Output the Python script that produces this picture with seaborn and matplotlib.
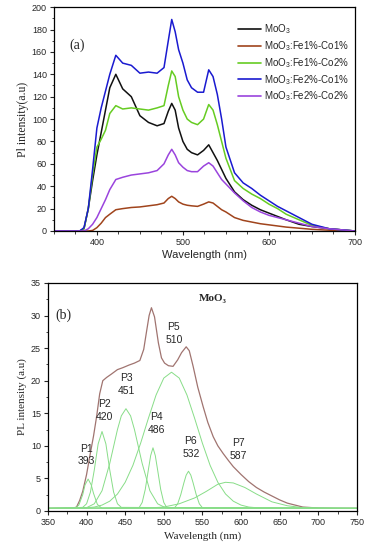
import matplotlib
matplotlib.use("Agg")
from matplotlib import pyplot as plt
from matplotlib.ticker import MultipleLocator
import seaborn as sns
import pandas as pd

# ---- panel (a): PL spectra of the five samples
wl = [350, 380, 385, 390, 395, 400, 405, 410, 415, 422, 430, 440, 450, 460, 470, 478,
      483, 487, 491, 495, 500, 505, 510, 517, 524, 530, 535, 540, 545, 550, 560, 570,
      580, 590, 600, 610, 620, 635, 650, 670, 700]
moo3 = [0, 0, 2, 20, 45, 68, 88, 108, 128, 140, 127, 120, 103, 97, 94, 96,
        107, 114, 108, 92, 80, 73, 70, 68, 72, 77, 70, 63, 55, 47, 35, 28,
        23, 19, 16, 13, 10, 6, 4, 2, 0]
fe1co1 = [0, 0, 0, 0, 0.5, 3, 7, 12, 15, 19, 20, 21, 21.5, 22.5, 23.5, 25,
          29, 31, 29, 26, 24, 23, 22.5, 22, 24, 26, 25, 22, 19, 17, 12, 9.5,
          8, 6.5, 5.5, 4.5, 3.5, 2.5, 1.5, 0.7, 0]
fe1co2 = [0, 0, 2, 20, 50, 75, 82, 90, 105, 112, 109, 110, 109, 108, 110, 112,
          130, 143, 138, 120, 108, 100, 97, 95, 100, 113, 108, 95, 80, 65, 45, 38,
          33, 29, 24, 20, 15, 10, 5, 2, 0]
fe2co1 = [0, 0, 3, 20, 55, 92, 110, 125, 140, 157, 150, 148, 141, 142, 141, 146,
          170, 189, 178, 162, 150, 135, 128, 124, 124, 144, 138, 122, 100, 75, 52, 43,
          38, 32, 27, 22, 18, 12, 6, 2, 0]
fe2co2 = [0, 0, 0, 2, 6, 12, 20, 28, 37, 46, 48, 50, 51, 52, 54, 60,
          68, 73, 68, 61, 57, 54, 53, 53, 58, 61, 58, 52, 46, 42, 34, 27,
          21, 17, 14, 12, 10, 7, 4, 2, 0]
samples = ["MoO$_3$", "MoO$_3$:Fe1%-Co1%", "MoO$_3$:Fe1%-Co2%",
           "MoO$_3$:Fe2%-Co1%", "MoO$_3$:Fe2%-Co2%"]
colors = ["#111111", "#a0441c", "#66cc22", "#1a1ad0", "#9a44dd"]

# ---- panel (b): MoO3 spectrum and its fitted components
wl_b = [350, 382, 387, 391, 395, 400, 404, 409, 413, 417, 421, 426, 432, 440, 447, 455,
        462, 469, 474, 478, 481, 484, 488, 493, 497, 501, 506, 512, 518, 523, 529, 533,
        538, 544, 551, 557, 564, 570, 577, 584, 590, 600, 610, 620, 630, 640, 650, 660,
        680, 700, 720, 750]
pl_b = [0.4, 0.4, 0.6, 1.6, 3.0, 5.6, 8.3, 11.5, 14.5, 18, 20, 20.5, 21.0, 21.7, 22.0, 22.4,
        22.7, 23.1, 24.8, 27.8, 30.0, 31.2, 29.8, 25.8, 23.5, 22.7, 22.3, 22.2, 23.2, 24.3, 25.2, 24.6,
        22.2, 19.0, 16.0, 13.6, 11.4, 10.0, 8.8, 7.7, 6.8, 5.6, 4.5, 3.6, 2.9, 2.3, 1.7, 1.2,
        0.6, 0.45, 0.4, 0.4]

p1_x = [350, 385, 390, 395, 398, 402, 406, 409, 414, 420, 750]
p1_y = [0.4, 0.4, 0.9, 2.5, 4.0, 4.9, 4.0, 2.7, 1.0, 0.4, 0.4]
p2_x = [350, 395, 400, 405, 410, 415, 420, 425, 430, 435, 440, 445, 750]
p2_y = [0.4, 0.55, 1.1, 2.9, 6.3, 10.3, 12.2, 10.3, 6.3, 2.9, 1.1, 0.55, 0.4]
p3_x = [350, 400, 410, 420, 430, 440, 445, 451, 457, 462, 472, 482, 492, 502, 750]
p3_y = [0.4, 0.5, 1.1, 3.1, 7.3, 12.5, 14.6, 15.7, 14.6, 12.5, 7.3, 3.1, 1.1, 0.5, 0.4]
p4_x = [350, 468, 472, 476, 480, 483, 486, 489, 492, 496, 500, 504, 750]
p4_y = [0.4, 0.5, 1.3, 3.3, 6.3, 8.5, 9.7, 8.5, 6.3, 3.3, 1.3, 0.5, 0.4]
p5_x = [350, 400, 410, 420, 430, 440, 450, 460, 470, 480, 490, 500, 510, 520, 530, 540,
        550, 560, 570, 580, 590, 600, 610, 620, 750]
p5_y = [0.4, 0.5, 0.6, 0.9, 1.5, 2.6, 4.4, 7.0, 10.4, 14.2, 17.8, 20.4, 21.3, 20.4, 17.8, 14.2,
        10.4, 7.0, 4.4, 2.6, 1.5, 0.9, 0.6, 0.5, 0.4]
p6_x = [350, 514, 518, 522, 526, 529, 532, 535, 538, 542, 546, 550, 750]
p6_y = [0.4, 0.5, 1.1, 2.5, 4.3, 5.5, 6.1, 5.5, 4.3, 2.5, 1.1, 0.5, 0.4]
p7_x = [350, 480, 500, 520, 540, 555, 570, 580, 590, 605, 620, 640, 660, 680, 700, 750]
p7_y = [0.4, 0.45, 0.6, 1.1, 2.0, 3.0, 4.1, 4.4, 4.3, 3.6, 2.6, 1.4, 0.8, 0.5, 0.4, 0.4]
peak_names = ["P1", "P2", "P3", "P4", "P5", "P6", "P7"]
peak_pos = [393, 420, 451, 486, 510, 532, 587]
label_x = [400, 423, 452, 491, 513, 535, 597]
label_y = [8.6, 15.4, 19.4, 13.4, 27.2, 9.7, 9.4]

sns.set_theme(style="ticks")
plt.rcParams["font.family"] = ["Liberation Sans", "DejaVu Sans"]
plt.rcParams["mathtext.fontset"] = "custom"
plt.rcParams["mathtext.rm"] = "Liberation Sans"
plt.rcParams["mathtext.it"] = "Liberation Sans:italic"

fig = plt.figure(figsize=(3.69, 5.5), dpi=100)
ax1 = fig.add_axes([0.146, 0.58, 0.816, 0.407])
ax2 = fig.add_axes([0.130, 0.071, 0.837, 0.4145])

# panel (a)
df_a = pd.DataFrame({"wavelength": wl * 5,
                     "intensity": moo3 + fe1co1 + fe1co2 + fe2co1 + fe2co2,
                     "sample": sum([[s] * len(wl) for s in samples], [])})
sns.lineplot(data=df_a, x="wavelength", y="intensity", hue="sample",
             palette=colors, linewidth=1.1, ax=ax1)
ax1.set_xlim(350, 700)
ax1.set_ylim(0, 200)
ax1.xaxis.set_major_locator(MultipleLocator(100))
ax1.xaxis.set_minor_locator(MultipleLocator(25))
ax1.yaxis.set_major_locator(MultipleLocator(20))
ax1.yaxis.set_minor_locator(MultipleLocator(10))
ax1.set_xlabel("Wavelength (nm)", fontsize=8, labelpad=2)
ax1.set_ylabel("Pl intensity(a.u)", fontsize=8.5, family="Liberation Serif", labelpad=2)
ax1.text(0.05, 0.83, "(a)", transform=ax1.transAxes, fontsize=10,
         family="Liberation Serif", va="center")
leg = ax1.legend(frameon=False, loc="upper right", bbox_to_anchor=(1.01, 0.97),
                 fontsize=7, handlelength=2.4, handletextpad=0.3, labelspacing=0.3)
for line in leg.get_lines():
    line.set_linewidth(1.2)

# panel (b)
sns.lineplot(x=wl_b, y=pl_b, color="#a07470", linewidth=0.9, ax=ax2)
for px, py in [(p1_x, p1_y), (p2_x, p2_y), (p3_x, p3_y), (p4_x, p4_y),
               (p5_x, p5_y), (p6_x, p6_y), (p7_x, p7_y)]:
    sns.lineplot(x=px, y=py, color="#88dd88", linewidth=0.7, ax=ax2)
for name, pos, tx, ty in zip(peak_names, peak_pos, label_x, label_y):
    ax2.text(tx, ty, f"{name}\n{pos}", ha="center", va="center", fontsize=7.5,
             linespacing=1.35)
ax2.set_xlim(350, 750)
ax2.set_ylim(0, 35)
ax2.xaxis.set_major_locator(MultipleLocator(50))
ax2.xaxis.set_minor_locator(MultipleLocator(25))
ax2.yaxis.set_major_locator(MultipleLocator(5))
ax2.yaxis.set_minor_locator(MultipleLocator(2.5))
ax2.set_xlabel("Wavelength (nm)", fontsize=8, family="Liberation Serif", labelpad=3)
ax2.set_ylabel("PL intensity (a.u)", fontsize=8, family="Liberation Serif", labelpad=3)
ax2.text(0.025, 0.86, "(b)", transform=ax2.transAxes, fontsize=10,
         family="Liberation Serif", va="center")
ax2.text(0.535, 0.934, "MoO\u2083", transform=ax2.transAxes, fontsize=8,
         family=["Liberation Serif", "DejaVu Serif"], fontweight="bold",
         ha="center", va="center")

for ax in (ax1, ax2):
    ax.tick_params(which="major", direction="out", length=3, width=0.8,
                   labelsize=6.5, pad=2)
    ax.tick_params(which="minor", direction="out", length=1.8, width=0.6)
    for sp in ax.spines.values():
        sp.set_linewidth(0.9)
        sp.set_color("black")

fig.savefig("out.png", dpi=100)
